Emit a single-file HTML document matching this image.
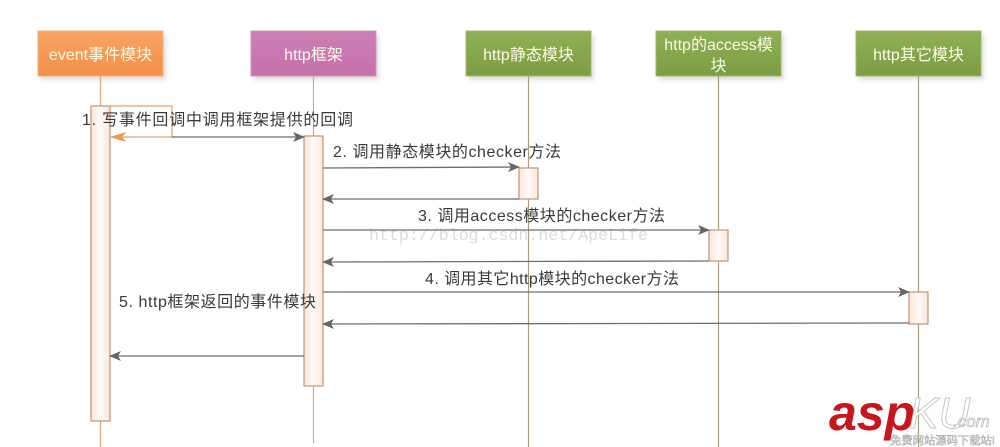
<!DOCTYPE html>
<html><head><meta charset="utf-8">
<style>
html,body{margin:0;padding:0;background:#fff;}
svg{display:block;}
.msg{font-family:"Liberation Sans","Noto Sans CJK SC",sans-serif;font-size:16px;fill:#3a3a3a;}
.hd{font-family:"Liberation Sans","Noto Sans CJK SC",sans-serif;font-size:16px;fill:#fbfbe6;}
</style></head>
<body>
<svg width="1000" height="447" viewBox="0 0 1000 447" xmlns="http://www.w3.org/2000/svg">
<defs>
<linearGradient id="gO" x1="0" y1="0" x2="0" y2="1"><stop offset="0" stop-color="#f8a465"/><stop offset="1" stop-color="#f38f48"/></linearGradient>
<linearGradient id="gP" x1="0" y1="0" x2="0" y2="1"><stop offset="0" stop-color="#cc80b5"/><stop offset="1" stop-color="#c472aa"/></linearGradient>
<linearGradient id="gG" x1="0" y1="0" x2="0" y2="1"><stop offset="0" stop-color="#8fb055"/><stop offset="1" stop-color="#7d9d45"/></linearGradient>
<linearGradient id="gA" x1="0" y1="0" x2="1" y2="0"><stop offset="0" stop-color="#fbe6d9"/><stop offset="0.5" stop-color="#fffbf8"/><stop offset="1" stop-color="#fbe6d9"/></linearGradient>
<filter id="sh" x="-10%" y="-10%" width="130%" height="140%"><feGaussianBlur stdDeviation="2"/></filter>
<marker id="ar" markerWidth="12" markerHeight="10" refX="11" refY="5" orient="auto" markerUnits="userSpaceOnUse"><path d="M0,0 L12,5 L0,10 L3,5 Z" fill="#666"/></marker>
<marker id="arO" markerWidth="16" markerHeight="10" refX="15" refY="5" orient="auto" markerUnits="userSpaceOnUse"><path d="M0,0 L16,5 L0,10 L4,5 Z" fill="#e8984f"/></marker>
</defs>

<g fill="#c8c8c8" opacity="0.6" filter="url(#sh)">
<rect x="41" y="35" width="125" height="45"/>
<rect x="254" y="35" width="125" height="45"/>
<rect x="469" y="35" width="125" height="45"/>
<rect x="659" y="35" width="125" height="45"/>
<rect x="859" y="35" width="125" height="45"/>
</g>
<rect x="38" y="31" width="125" height="45" fill="url(#gO)" stroke="#f7b07a" stroke-width="1"/>
<rect x="251" y="31" width="125" height="45" fill="url(#gP)" stroke="#d592c2" stroke-width="1"/>
<rect x="466" y="31" width="125" height="45" fill="url(#gG)" stroke="#9dbb66" stroke-width="1"/>
<rect x="656" y="31" width="125" height="45" fill="url(#gG)" stroke="#9dbb66" stroke-width="1"/>
<rect x="856" y="31" width="125" height="45" fill="url(#gG)" stroke="#9dbb66" stroke-width="1"/>

<text class="hd" x="100.5" y="60" text-anchor="middle">event事件模块</text>
<text class="hd" x="313.5" y="60" text-anchor="middle">http框架</text>
<text class="hd" x="528.5" y="60" text-anchor="middle">http静态模块</text>
<text class="hd" x="718.5" y="50" text-anchor="middle">http的access模</text>
<text class="hd" x="718.5" y="71" text-anchor="middle">块</text>
<text class="hd" x="918.5" y="60" text-anchor="middle">http其它模块</text>

<g stroke-width="1.2">
<line x1="100.5" y1="76" x2="100.5" y2="447" stroke="#dba77c"/>
<line x1="313.5" y1="76" x2="313.5" y2="443" stroke="#dba77c"/>
<line x1="528.5" y1="76" x2="528.5" y2="447" stroke="#a8a07a"/>
<line x1="718.5" y1="76" x2="718.5" y2="447" stroke="#a8a07a"/>
<line x1="918.5" y1="76" x2="918.5" y2="447" stroke="#a8a07a"/>
</g>

<text x="369" y="240" font-family="'Liberation Mono',monospace" font-size="16.5" fill="#dcdcdc" textLength="279" lengthAdjust="spacingAndGlyphs">http://blog.csdn.net/ApeLife</text>

<g stroke="#c29473" stroke-width="1.2" fill="url(#gA)">
<rect x="91" y="106" width="19" height="315"/>
<rect x="304" y="136" width="19" height="250"/>
<rect x="519" y="168" width="19" height="31"/>
<rect x="709" y="230" width="19" height="31"/>
<rect x="909" y="292" width="19" height="32"/>
</g>

<path d="M110 106 H172 V137 H111" fill="none" stroke="#e8a46a" stroke-width="1.3" marker-end="url(#arO)"/>

<g stroke="#6e6e6e" stroke-width="1.3" fill="none">
<line x1="172" y1="137" x2="304" y2="137" marker-end="url(#ar)"/>
<line x1="323" y1="168" x2="519" y2="167" marker-end="url(#ar)"/>
<line x1="519" y1="199" x2="323" y2="199" marker-end="url(#ar)"/>
<line x1="323" y1="230" x2="709" y2="230" marker-end="url(#ar)"/>
<line x1="709" y1="261" x2="323" y2="262" marker-end="url(#ar)"/>
<line x1="323" y1="292" x2="909" y2="292" marker-end="url(#ar)"/>
<line x1="909" y1="323" x2="323" y2="324" marker-end="url(#ar)"/>
<line x1="304" y1="356" x2="110" y2="356" marker-end="url(#ar)"/>
</g>

<text class="msg" x="82" y="125" textLength="271" lengthAdjust="spacing">1. 写事件回调中调用框架提供的回调</text>
<text class="msg" x="333" y="157" textLength="228" lengthAdjust="spacing">2. 调用静态模块的checker方法</text>
<text class="msg" x="418" y="221" textLength="247" lengthAdjust="spacing">3. 调用access模块的checker方法</text>
<text class="msg" x="425" y="284" textLength="254" lengthAdjust="spacing">4. 调用其它http模块的checker方法</text>
<text class="msg" x="119" y="307" textLength="197" lengthAdjust="spacing">5. http框架返回的事件模块</text>

<text x="829" y="430" font-family="'Liberation Sans',sans-serif" font-size="50" font-weight="bold" font-style="italic" fill="#c8161e">asp</text>
<text x="909" y="428" font-family="'Liberation Sans',sans-serif" font-size="44" font-style="italic" fill="#fff" stroke="#c4c4c4" stroke-width="0.9">KU</text>
<text x="953" y="427" font-family="'Liberation Sans',sans-serif" font-size="17" font-style="italic" fill="#fff" stroke="#a8a8a8" stroke-width="0.6">.com</text>
<text x="890" y="444" font-family="'Liberation Sans','Noto Sans CJK SC',sans-serif" font-size="11" fill="#fff" stroke="#a0a0a0" stroke-width="0.45" textLength="105" lengthAdjust="spacingAndGlyphs">免费网站源码下载站!</text>
</svg>
</body></html>
